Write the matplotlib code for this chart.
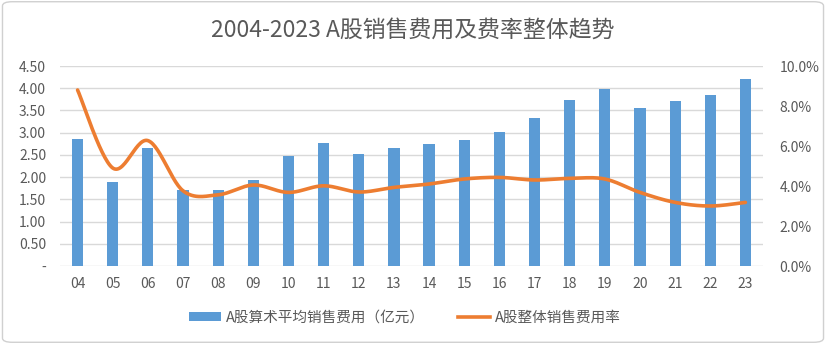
import numpy as np
import matplotlib
matplotlib.use("Agg")
import matplotlib.pyplot as plt
from matplotlib.patches import FancyBboxPatch, Patch
from matplotlib.lines import Line2D
from matplotlib.ticker import FuncFormatter

plt.rcParams['font.family'] = ['Noto Sans CJK SC', 'DejaVu Sans']

years = ['04', '05', '06', '07', '08', '09', '10', '11', '12', '13',
         '14', '15', '16', '17', '18', '19', '20', '21', '22', '23']
avg_expense = [2.85, 1.88, 2.66, 1.70, 1.72, 1.93, 2.47, 2.76, 2.52, 2.65,
               2.74, 2.83, 3.01, 3.32, 3.74, 3.98, 3.56, 3.72, 3.85, 4.20]
expense_rate = [8.8, 4.9, 6.27, 3.76, 3.56, 4.05, 3.68, 4.01, 3.70, 3.93,
                4.10, 4.35, 4.43, 4.30, 4.38, 4.35, 3.68, 3.18, 3.00, 3.18]

title = '2004-2023 A股销售费用及费率整体趋势'
bar_label = 'A股算术平均销售费用（亿元）'
line_label = 'A股整体销售费用率'

BLUE = '#5B9BD5'
ORANGE = '#ED7D31'
GRID = '#D9D9D9'
TXT = '#595959'


def smooth(xs, ys, n=30):
    xs = np.asarray(xs, float)
    ys = np.asarray(ys, float)
    px = np.concatenate([[xs[0]], xs, [xs[-1]]])
    py = np.concatenate([[ys[0]], ys, [ys[-1]]])
    ox, oy = [], []
    t = np.linspace(0, 1, n)
    for i in range(1, len(px) - 2):
        p0 = np.array([px[i], py[i]])
        p3 = np.array([px[i + 1], py[i + 1]])
        p1 = p0 + (np.array([px[i + 1], py[i + 1]]) - np.array([px[i - 1], py[i - 1]])) / 6
        p2 = p3 - (np.array([px[i + 2], py[i + 2]]) - np.array([px[i], py[i]])) / 6
        b = ((1 - t) ** 3)[:, None] * p0 + (3 * (1 - t) ** 2 * t)[:, None] * p1 \
            + (3 * (1 - t) * t ** 2)[:, None] * p2 + (t ** 3)[:, None] * p3
        ox.extend(b[:, 0]); oy.extend(b[:, 1])
    return np.array(ox), np.array(oy)


fig = plt.figure(figsize=(8.26, 3.44), dpi=100)
fig.patches.append(FancyBboxPatch((0.003, 0.005), 0.994, 0.99, boxstyle='round,pad=0,rounding_size=0.012',
                                  transform=fig.transFigure, facecolor='white', edgecolor='#D0D0D0',
                                  linewidth=1.0, zorder=-10))

ax = fig.add_axes([60 / 826, 1 - 266 / 344, (763 - 60) / 826, 200 / 344])
x = np.arange(len(years))
ax.bar(x, avg_expense, width=0.32, color=BLUE, zorder=3, label=bar_label)
ax.set_xlim(-0.5, len(years) - 0.5)
ax.set_ylim(0, 4.5)
ax.set_yticks(np.arange(0, 4.51, 0.5))
ax.yaxis.set_major_formatter(FuncFormatter(lambda v, p: '-' if abs(v) < 1e-9 else f'{v:.2f}'))
ax.set_xticks(x)
ax.set_xticklabels(years)
ax.grid(axis='y', color=GRID, linewidth=1.0, zorder=0)
for s in ax.spines.values():
    s.set_visible(False)
ax.tick_params(axis='both', length=0, colors=TXT, labelsize=10)
ax.tick_params(axis='x', pad=8)
ax.tick_params(axis='y', pad=10)
ax.patch.set_alpha(0)

ax2 = ax.twinx()
sx, sy = smooth(x, expense_rate)
ax2.plot(sx, sy, color=ORANGE, linewidth=2.6, solid_capstyle='round', zorder=4)
ax2.set_ylim(0, 10)
ax2.set_yticks(np.arange(0, 10.01, 2))
ax2.yaxis.set_major_formatter(FuncFormatter(lambda v, p: f'{v:.1f}%'))
for s in ax2.spines.values():
    s.set_visible(False)
ax2.tick_params(axis='y', length=0, colors=TXT, labelsize=10, pad=12)

fig.text(0.5, 1 - 30 / 344, title, ha='center', va='center', fontsize=16.5, color=TXT)

handles = [Patch(facecolor=BLUE, label=bar_label),
           Line2D([0], [0], color=ORANGE, linewidth=2.6, label=line_label)]
fig.legend(handles=handles, loc='center', bbox_to_anchor=(0.49, 1 - 318 / 344), ncol=2, frameon=False,
           fontsize=10.5, labelcolor=TXT, handlelength=2.2, handleheight=0.6, columnspacing=2.3,
           handletextpad=0.3)

fig.savefig('out.png', dpi=100)
